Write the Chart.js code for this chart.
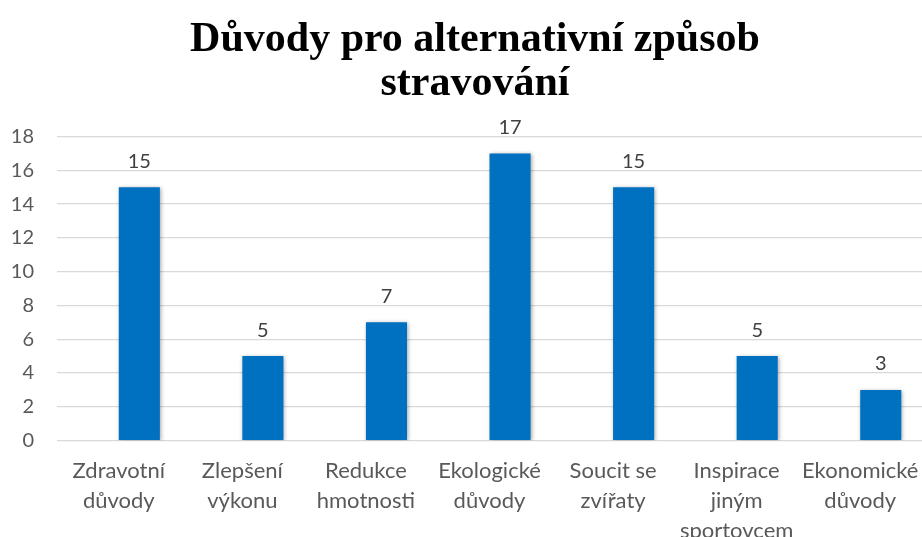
<!DOCTYPE html>
<html lang="cs">
<head>
<meta charset="UTF-8">
<title>Důvody pro alternativní způsob stravování</title>
<script src="https://cdn.jsdelivr.net/npm/chart.js@4.4.2/dist/chart.umd.min.js"></script>
<style>
  html, body { margin: 0; padding: 0; background: #fff; overflow: hidden; }
  .wrap { position: relative; width: 950px; height: 561px; }
</style>
</head>
<body>
<div class="wrap"><canvas id="chart"></canvas></div>
<script>
  const titleLines = ['Důvody pro alternativní způsob', 'stravování'];
  const categories = [
    ['Zdravotní', 'důvody'],
    ['Zlepšení', 'výkonu'],
    ['Redukce', 'hmotnosti'],
    ['Ekologické', 'důvody'],
    ['Soucit se', 'zvířaty'],
    ['Inspirace', 'jiným', 'sportovcem'],
    ['Ekonomické', 'důvody']
  ];
  // first series of the cluster is left empty, so the bars sit right of centre
  const emptySeries = [null, null, null, null, null, null, null];
  const counts = [15, 5, 7, 17, 15, 5, 3];
  const yTicks = { min: 0, max: 18, step: 2 };

  const textColor = '#595959';
  const bodyFont = 'Lato, "Open Sans", sans-serif';

  // centre the title over the whole canvas, not just the padded layout box
  const fullWidthTitle = {
    id: 'fullWidthTitle',
    afterLayout(chart) {
      const t = chart.titleBlock;
      if (!t) return;
      t.left = 0;
      t.right = chart.width;
      t.width = chart.width;
    }
  };

  // soft shadow under the bars
  const barShadow = {
    id: 'barShadow',
    beforeDatasetsDraw(chart) {
      const c = chart.ctx;
      c.save();
      c.shadowColor = 'rgba(0,0,0,0.35)';
      c.shadowBlur = 4;
      c.shadowOffsetX = 1;
      c.shadowOffsetY = 1;
    },
    afterDatasetsDraw(chart) {
      chart.ctx.restore();
    }
  };

  // value written above each bar of the filled series
  const valueLabels = {
    id: 'valueLabels',
    afterDatasetsDraw(chart) {
      const c = chart.ctx;
      const meta = chart.getDatasetMeta(1);
      c.save();
      c.fillStyle = '#404040';
      c.font = '20px ' + bodyFont;
      c.textAlign = 'center';
      c.textBaseline = 'middle';
      meta.data.forEach((bar, i) => {
        c.fillText(String(chart.data.datasets[1].data[i]), bar.x, bar.y - 26);
      });
      c.restore();
    }
  };

  new Chart(document.getElementById('chart'), {
    type: 'bar',
    data: {
      labels: categories,
      datasets: [{
        data: emptySeries,
        backgroundColor: '#ED7D31',
        borderWidth: 0,
        barPercentage: 1,
        categoryPercentage: 0.665
      }, {
        data: counts,
        backgroundColor: '#0070C0',
        borderWidth: 0,
        barPercentage: 1,
        categoryPercentage: 0.665
      }]
    },
    plugins: [fullWidthTitle, barShadow, valueLabels],
    options: {
      responsive: true,
      maintainAspectRatio: false,
      animation: false,
      layout: { padding: { top: 13, right: 28, left: 0, bottom: 0 } },
      plugins: {
        legend: { display: false },
        tooltip: { enabled: false },
        title: {
          display: true,
          text: titleLines,
          color: '#000',
          font: { family: '"Liberation Serif", "Times New Roman", serif', size: 42, weight: 'bold', lineHeight: 1.03 },
          padding: { top: 6, bottom: 31 }
        }
      },
      scales: {
        x: {
          grid: { display: false, drawTicks: false },
          border: { display: false },
          ticks: {
            color: textColor,
            font: { family: bodyFont, size: 22, lineHeight: 1.37 },
            padding: 15,
            maxRotation: 0,
            autoSkip: false
          }
        },
        y: {
          min: yTicks.min,
          max: yTicks.max,
          afterFit(scale) { scale.width = 57; },
          grid: { color: '#d9d9d9', lineWidth: 1.3, drawTicks: false },
          border: { display: false },
          ticks: {
            stepSize: yTicks.step,
            color: textColor,
            font: { family: bodyFont, size: 20 },
            padding: 23
          }
        }
      }
    }
  });
</script>
</body>
</html>
